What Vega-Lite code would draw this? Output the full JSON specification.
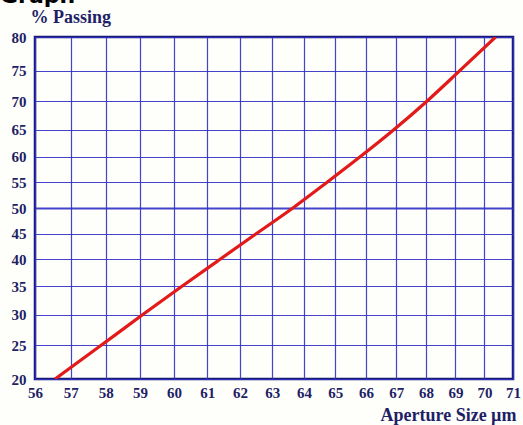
{
  "$schema": "https://vega.github.io/schema/vega-lite/v6.json",
  "autosize": {"type": "none"},
  "width": 478,
  "height": 342,
  "padding": {"left": 35, "top": 37, "right": 10, "bottom": 46},
  "background": "#fefefb",
  "title": {
    "text": "Graph",
    "anchor": "start",
    "frame": "group",
    "font": "DejaVu Sans",
    "fontWeight": "bold",
    "fontSize": 22,
    "color": "#000000",
    "dx": -35,
    "offset": 0
  },
  "config": {
    "view": {"stroke": "#1a1a72", "strokeWidth": 2.5},
    "axis": {
      "labelFont": "Liberation Serif",
      "labelFontWeight": "bold",
      "labelFontSize": 15,
      "labelColor": "#1f1f66",
      "titleFont": "Liberation Serif",
      "titleFontWeight": "bold",
      "titleColor": "#1f1f66",
      "domain": false,
      "ticks": false,
      "grid": true,
      "gridColor": "#3030c4",
      "gridOpacity": 0.9
    }
  },
  "data": {
    "values": [
      {"size": 56.56, "passing": 20},
      {"size": 57.88, "passing": 25},
      {"size": 59.08, "passing": 30},
      {"size": 60.24, "passing": 35},
      {"size": 61.38, "passing": 40},
      {"size": 62.51, "passing": 45},
      {"size": 63.65, "passing": 50},
      {"size": 64.73, "passing": 55},
      {"size": 65.82, "passing": 60},
      {"size": 66.92, "passing": 65},
      {"size": 68.02, "passing": 70},
      {"size": 69.14, "passing": 75},
      {"size": 70.39, "passing": 80}
    ]
  },
  "mark": {"type": "line", "color": "#e21a1a", "strokeWidth": 3.2, "interpolate": "monotone", "clip": true},
  "encoding": {
    "x": {
      "field": "size",
      "type": "quantitative",
      "scale": {"type": "log", "domain": [56, 71], "nice": false},
      "axis": {
        "values": [56, 57, 58, 59, 60, 61, 62, 63, 64, 65, 66, 67, 68, 69, 70, 71],
        "format": "d",
        "labelPadding": 6,
        "labelFlush": false,
        "labelOverlap": false,
        "gridWidth": 1.2,
        "title": "Aperture Size µm",
        "titleFontSize": 18,
        "titleX": 481,
        "titleY": 41,
        "titleAlign": "right",
        "titleBaseline": "alphabetic"
      }
    },
    "y": {
      "field": "passing",
      "type": "quantitative",
      "scale": {
        "domain": [20, 25, 30, 35, 40, 45, 50, 55, 60, 65, 70, 75, 80],
        "range": [342, 308.05, 277.55, 249.29, 222.47, 196.54, 171, 145.46, 119.53, 92.71, 64.45, 33.95, 0],
        "nice": false,
        "zero": false
      },
      "axis": {
        "values": [20, 25, 30, 35, 40, 45, 50, 55, 60, 65, 70, 75, 80],
        "labelPadding": 9,
        "labelFlush": false,
        "labelOverlap": false,
        "gridWidth": {"condition": {"test": "datum.value === 50", "value": 2.2}, "value": 1.2},
        "title": "% Passing",
        "titleFontSize": 18,
        "titleAngle": 0,
        "titleX": -5,
        "titleY": -15,
        "titleAlign": "left",
        "titleBaseline": "alphabetic"
      }
    }
  }
}
